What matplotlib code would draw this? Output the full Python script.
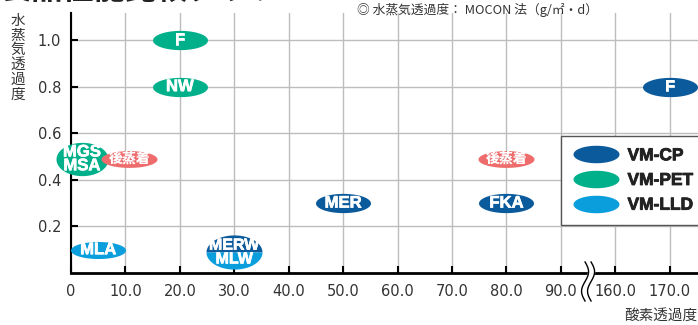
import numpy as np
import matplotlib
matplotlib.use('Agg')
import matplotlib.pyplot as plt
import matplotlib.patheffects as pe
from matplotlib.path import Path
from matplotlib.lines import Line2D
from matplotlib.transforms import IdentityTransform

plt.rcParams['font.family'] = ['Noto Sans CJK JP', 'DejaVu Sans']

# ---- data ----
x_ticks = [0, 10, 20, 30, 40, 50, 60, 70, 80, 90, 160, 170]
x_tick_labels = ['0', '10.0', '20.0', '30.0', '40.0', '50.0', '60.0',
                 '70.0', '80.0', '90.0', '160.0', '170.0']
y_ticks = [0.2, 0.4, 0.6, 0.8, 1.0]
y_tick_labels = ['0.2', '0.4', '0.6', '0.8', '1.0']

# VM-CP
cp_labels = ['F', 'MER', 'FKA']
cp_x = [170, 50, 80]
cp_y = [0.8, 0.3, 0.3]
# VM-PET
pet_labels = ['F', 'NW', 'MGS\nMSA']
pet_x = [20, 20, 2]
pet_y = [1.0, 0.8, 0.49]
# VM-LLD
lld_labels = ['MLA']
lld_x = [5]
lld_y = [0.1]
# 後蒸着
post_label = '後蒸着'
post_x = [10.7, 80]
post_y = [0.49, 0.49]
# VM-CP / VM-LLD split
split_labels = ['MERW', 'MLW']
split_x = [30]
split_y = [0.09]

series_names = ['VM-CP', 'VM-PET', 'VM-LLD']

C_CP = '#0b5a9c'
C_PET = '#00b08a'
C_LLD = '#0a9fdc'
C_POST = '#ee6c6c'
GRID = '#bdbdbd'
TXT = '#333333'

# piecewise axis with a break between 90 and 160
brk_v = [0, 90, 160, 200]
brk_p = [0, 9, 10, 14]


def fwd(v):
    return np.interp(v, brk_v, brk_p)


def inv(p):
    return np.interp(p, brk_p, brk_v)


def ellipse(aspect, part='full'):
    if part == 'upper':
        t = np.linspace(0, np.pi, 60)
    elif part == 'lower':
        t = np.linspace(np.pi, 2 * np.pi, 60)
    else:
        t = np.linspace(0, 2 * np.pi, 120)
    v = np.column_stack([np.cos(t), aspect * np.sin(t)])
    v = np.vstack([v, v[:1]])
    return Path(v, closed=True)


def size(px):
    return (px * 0.72) ** 2


fig = plt.figure(figsize=(6.98, 3.25), dpi=100)
ax = fig.add_axes([71 / 698, 52 / 325, 627 / 698, 260 / 325])
ax.set_xscale('function', functions=(fwd, inv))
ax.set_xlim(0, 175.2)
ax.set_ylim(0, 1.116)

ax.set_xticks(x_ticks)
ax.set_xticklabels(x_tick_labels)
ax.set_yticks(y_ticks)
ax.set_yticklabels(y_tick_labels)
ax.xaxis.set_minor_locator(plt.NullLocator())
ax.tick_params(axis='both', direction='in', length=5, width=1.5, color='black',
               labelsize=10.5, labelcolor=TXT)
ax.tick_params(axis='x', pad=8)
ax.tick_params(axis='y', pad=7)
for lab in ax.get_xticklabels() + ax.get_yticklabels():
    lab.set_family('DejaVu Sans')

ax.grid(True, color=GRID, lw=1)
ax.set_axisbelow(True)
for s in ['top', 'right']:
    ax.spines[s].set_visible(False)
ax.spines['left'].set_linewidth(1.5)
ax.spines['bottom'].set_linewidth(2)

std = ellipse(0.35)
heavy = [pe.withStroke(linewidth=0.5, foreground='white')]
lab_font = dict(ha='center', va='center', color='white', fontweight='bold',
                family=['Liberation Sans', 'DejaVu Sans'], fontsize=12,
                path_effects=heavy, zorder=5)

# VM-CP
ax.scatter(cp_x, cp_y, s=size(55), marker=std, color=C_CP, lw=0, zorder=3,
           clip_on=False)
for l, x, y in zip(cp_labels, cp_x, cp_y):
    ax.text(x, y, l, **lab_font)

# VM-PET
ax.scatter(pet_x[:2], pet_y[:2], s=size(55), marker=std, color=C_PET, lw=0,
           zorder=3, clip_on=False)
ax.scatter(pet_x[2:], pet_y[2:], s=size(52), marker=ellipse(0.64), color=C_PET,
           lw=0, zorder=3, clip_on=False)
for l, x, y in zip(pet_labels, pet_x, pet_y):
    ax.text(x, y, l, linespacing=0.9, **lab_font)

# VM-LLD
ax.scatter(lld_x, lld_y, s=size(55), marker=ellipse(0.31), color=C_LLD, lw=0,
           zorder=3, clip_on=False)
for l, x, y in zip(lld_labels, lld_x, lld_y):
    ax.text(x, y, l, **lab_font)

# 後蒸着
ax.scatter(post_x, post_y, s=size(56), marker=ellipse(0.3), color=C_POST, lw=0,
           zorder=4, clip_on=False)
for x, y in zip(post_x, post_y):
    ax.text(x, y, post_label, ha='center', va='center', color='white',
            fontweight='heavy', fontsize=10, zorder=5)

# split VM-CP / VM-LLD
ax.scatter(split_x, split_y, s=size(56), marker=ellipse(0.61, 'upper'),
           color=C_CP, lw=0, zorder=3, clip_on=False)
ax.scatter(split_x, split_y, s=size(56), marker=ellipse(0.61, 'lower'),
           color=C_LLD, lw=0, zorder=3, clip_on=False)
split_font = dict(lab_font, fontsize=11.5)
ax.text(split_x[0], split_y[0], '\n'.join(split_labels), linespacing=0.9,
        **split_font)

# legend
handles = [Line2D([], [], ls='', marker=ellipse(0.38), markersize=46 * 0.72,
                  markerfacecolor=c, markeredgewidth=0)
           for c in [C_CP, C_PET, C_LLD]]
leg = ax.legend(handles, series_names, loc='upper left',
                bbox_to_anchor=(0.781, 0.527), fancybox=False, framealpha=1,
                edgecolor='#555555', borderpad=0.7, labelspacing=0.55,
                handlelength=2.7, handletextpad=0.45, borderaxespad=0,
                prop=dict(family=['Liberation Sans', 'DejaVu Sans'],
                          weight='bold', size=12.5))
leg.get_frame().set_linewidth(1)
leg.set_zorder(6)
for t in leg.get_texts():
    t.set_color('#222222')
    t.set_path_effects([pe.withStroke(linewidth=0.6, foreground='#222222')])

# axis break mark
fig.canvas.draw()
xc, y0 = ax.transData.transform((125, 0))
yy = y0 + np.linspace(-28, 11, 80)
wav = 3.5 * np.sin((yy - y0 + 28) / 39 * 2 * np.pi)
xl = xc - 3 - wav
xr = xc + 3 - wav
ax.fill(np.r_[xl, xr[::-1]], np.r_[yy, yy[::-1]], color='white',
        transform=IdentityTransform(), clip_on=False, zorder=7)
for xs in (xl, xr):
    ax.plot(xs, yy, color='black', lw=1, transform=IdentityTransform(),
            clip_on=False, zorder=8)

# texts
fig.text(0.0, 1 - 6 / 325, '製品性能比較グラフ', ha='left', va='bottom',
         fontsize=22.5, fontweight='bold', color='#222222')
fig.text(357 / 698, 1 - 10 / 325, '◎ 水蒸気透過度： MOCON 法（g/㎡・d）',
         ha='left', va='center', fontsize=9.2, color=TXT)
for i, ch in enumerate('水蒸気透過度'):
    fig.text(18 / 698, 1 - (21 + i * 14.7) / 325, ch, ha='center', va='center',
             fontsize=10.5, color=TXT)
fig.text(697 / 698, 1 - 316 / 325, '酸素透過度', ha='right', va='center',
         fontsize=10.5, color=TXT)

fig.savefig('out.png', dpi=100)
